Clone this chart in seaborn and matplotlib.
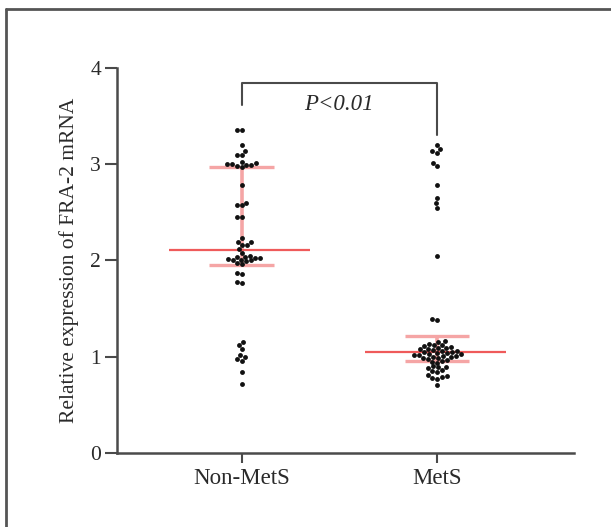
import matplotlib
matplotlib.use("Agg")
import matplotlib.pyplot as plt
from matplotlib.lines import Line2D
import seaborn as sns
import pandas as pd

# Group labels
groups = ["Non-MetS", "MetS"]

# Relative FRA-2 mRNA expression per subject
non_mets = [3.36, 3.36, 3.20, 3.14, 3.10, 3.10, 3.02, 3.01, 3.00, 3.00, 2.99,
            2.99, 2.98, 2.97, 2.78, 2.60, 2.58, 2.58, 2.45, 2.45, 2.23, 2.19,
            2.19, 2.16, 2.16, 2.12, 2.08, 2.05, 2.04, 2.04, 2.03, 2.03, 2.02,
            2.01, 2.00, 2.00, 1.99, 1.97, 1.96, 1.87, 1.86, 1.78, 1.77, 1.15,
            1.12, 1.08, 1.02, 1.00, 0.98, 0.96, 0.84, 0.72]
mets = [3.20, 3.16, 3.14, 3.12, 3.01, 2.98, 2.78, 2.65, 2.60, 2.55, 2.05,
        1.39, 1.38, 1.16, 1.15, 1.13, 1.12, 1.12, 1.11, 1.10, 1.09, 1.09,
        1.08, 1.08, 1.07, 1.06, 1.06, 1.05, 1.05, 1.04, 1.04, 1.03, 1.03,
        1.02, 1.02, 1.01, 1.01, 1.00, 1.00, 0.99, 0.99, 0.98, 0.97, 0.96,
        0.95, 0.94, 0.90, 0.89, 0.89, 0.88, 0.86, 0.85, 0.84, 0.81, 0.80,
        0.79, 0.78, 0.77, 0.71]

# Summary lines: centre value with lower / upper whiskers
centers = [2.11, 1.05]
lowers = [1.95, 0.96]
uppers = [2.97, 1.215]

# Significance annotation
p_label = "P<0.01"
yticks = [0, 1, 2, 3, 4]

df = pd.DataFrame({
    "group": [groups[0]] * len(non_mets) + [groups[1]] * len(mets),
    "value": non_mets + mets,
})

sns.set_theme(style="white")
plt.rcParams["font.family"] = ["Liberation Serif", "DejaVu Serif"]

fig = plt.figure(figsize=(6.11, 5.27), dpi=100)
ax = fig.add_axes([0.1915, 0.1404, 0.7479, 0.7306])

axis_col = "#4a4a4a"
text_col = "#2a2a2a"
line_red = "#ef5a5a"
light_red = "#f5a5a5"

# Whiskers and summary bars drawn underneath the points
for i in range(len(groups)):
    ax.plot([i, i], [lowers[i], uppers[i]], color=light_red, lw=2.6,
            solid_capstyle="butt", zorder=1)
    for v in (lowers[i], uppers[i]):
        ax.plot([i - 0.165, i + 0.165], [v, v], color=light_red, lw=2.4,
                solid_capstyle="butt", zorder=1)
    ax.plot([i - 0.37, i + 0.35], [centers[i], centers[i]], color=line_red,
            lw=1.6, solid_capstyle="butt", zorder=1)

sns.swarmplot(data=df, x="group", y="value", order=groups, ax=ax,
              color="#111111", size=3.5, linewidth=0, zorder=3)

ax.set_xlim(-0.638, 1.70)
ax.set_ylim(0, 4)
ax.set_yticks(yticks)
ax.set_yticklabels([str(t) for t in yticks])
ax.set_xlabel("")
ax.set_ylabel("Relative expression of FRA-2 mRNA", fontsize=15.5,
              color=text_col, labelpad=8)

for side in ("top", "right"):
    ax.spines[side].set_visible(False)
for side in ("left", "bottom"):
    ax.spines[side].set_color(axis_col)
    ax.spines[side].set_linewidth(1.8)

ax.tick_params(axis="y", direction="out", length=8.5, width=1.5,
               color=axis_col, labelsize=15.5, labelcolor=text_col, pad=3,
               left=True)
ax.tick_params(axis="x", direction="out", length=7, width=1.5,
               color=axis_col, labelsize=16.5, labelcolor=text_col, pad=4,
               bottom=True)

# Significance bracket
ax.plot([0, 0, 1, 1], [3.62, 3.84, 3.84, 3.30], color=axis_col, lw=1.5,
        clip_on=False, zorder=2)
ax.text(0.5, 3.62, p_label, ha="center", va="center", fontsize=16.5,
        style="italic", color=text_col)

# Panel frame (top and left edges)
fig.add_artist(Line2D([0.0098, 0.0098], [0.0, 0.983], transform=fig.transFigure,
                      color="#555555", lw=2))
fig.add_artist(Line2D([0.0098, 1.0], [0.983, 0.983], transform=fig.transFigure,
                      color="#555555", lw=2))

fig.savefig("out.png", dpi=100, facecolor="white")
